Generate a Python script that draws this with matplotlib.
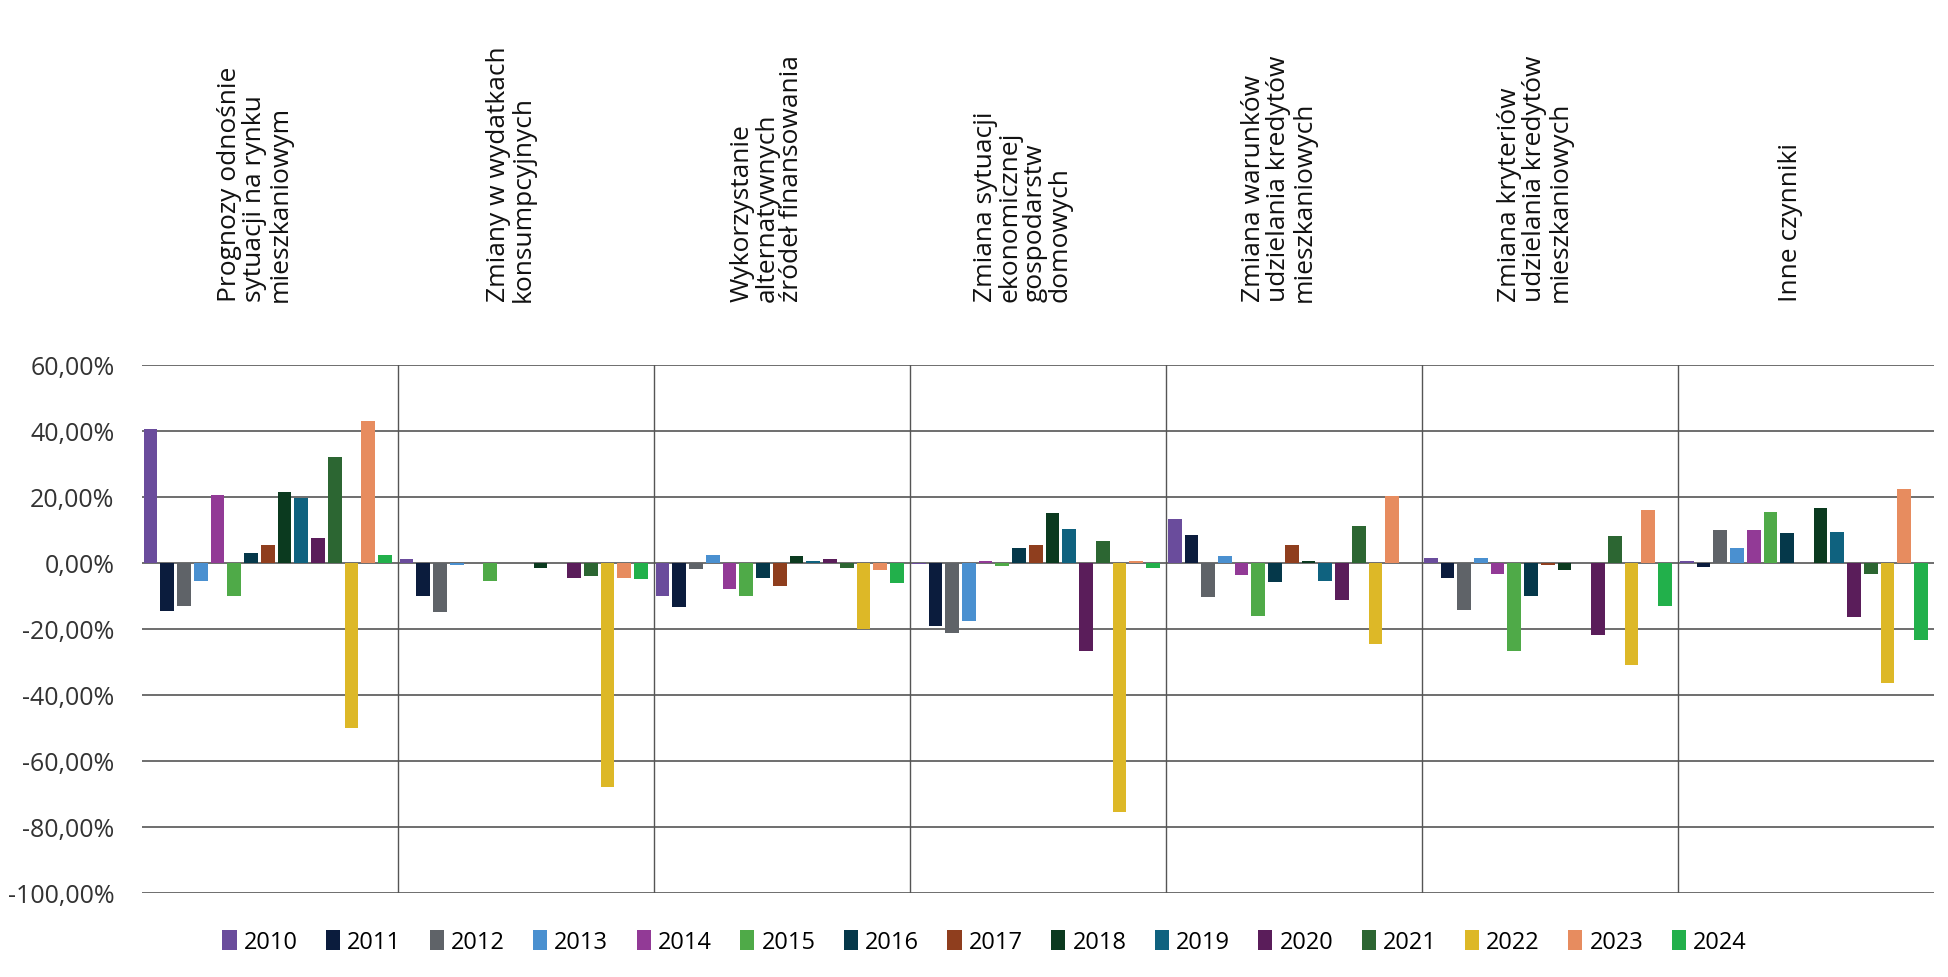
import numpy as np
import matplotlib
matplotlib.use("Agg")
from matplotlib import pyplot as plt
from matplotlib.ticker import FuncFormatter

# kategorie
kategorie = [
    "Prognozy odnośnie\nsytuacji na rynku\nmieszkaniowym",
    "Zmiany w wydatkach\nkonsumpcyjnych",
    "Wykorzystanie\nalternatywnych\nźródeł finansowania",
    "Zmiana sytuacji\nekonomicznej\ngospodarstw\ndomowych",
    "Zmiana warunków\nudzielania kredytów\nmieszkaniowych",
    "Zmiana kryteriów\nudzielania kredytów\nmieszkaniowych",
    "Inne czynniki",
]
lata = [str(r) for r in range(2010, 2025)]

# wartosci w % (wiersz = rok, kolumna = kategoria)
r2010 = [40.5, 1.2, -10.0, -0.5, 13.3, 1.6, 0.7]
r2011 = [-14.5, -10.0, -13.5, -19.0, 8.5, -4.7, -1.4]
r2012 = [-13.0, -15.0, -2.0, -21.3, -10.5, -14.3, 10.0]
r2013 = [-5.5, -0.7, 2.5, -17.7, 2.2, 1.6, 4.6]
r2014 = [20.5, 0.0, -8.0, 0.4, -3.8, -3.5, 10.0]
r2015 = [-10.0, -5.5, -10.0, -1.0, -16.0, -26.7, 15.5]
r2016 = [3.0, 0.0, -4.5, 4.6, -5.8, -10.0, 9.1]
r2017 = [5.5, 0.0, -7.0, 5.3, 5.5, -0.8, 0.0]
r2018 = [21.5, -1.5, 2.0, 15.2, 0.4, -2.2, 16.7]
r2019 = [19.5, 0.0, 0.4, 10.3, -5.6, 0.0, 9.4]
r2020 = [7.5, -4.5, 1.3, -26.7, -11.3, -21.8, -16.4]
r2021 = [32.0, -4.0, -1.7, 6.5, 11.2, 8.0, -3.5]
r2022 = [-50.0, -68.0, -20.0, -75.5, -24.5, -31.0, -36.3]
r2023 = [43.0, -4.5, -2.3, 0.6, 20.2, 16.0, 22.3]
r2024 = [2.5, -5.0, -6.0, -1.6, 0.0, -13.0, -23.3]
wartosci = [r2010, r2011, r2012, r2013, r2014, r2015, r2016, r2017,
            r2018, r2019, r2020, r2021, r2022, r2023, r2024]

kolory = ["#6A4C9C", "#0B1C3D", "#5F6368", "#4A90D0", "#923A96", "#4FAA48",
          "#05384A", "#8F3E1E", "#0B3A1F", "#0F627F", "#5A1D5A", "#2C6632",
          "#DDB827", "#E78C5F", "#22B04B"]

plt.rcParams["font.family"] = ["Open Sans", "DejaVu Sans"]

fig = plt.figure(figsize=(19.48, 9.78), dpi=100)
ax = fig.add_axes([0.073, 0.086, 0.92, 0.54])

n = len(lata)
szer = 1.0 / (n + 0.3)
x = np.arange(len(kategorie))
for i, (rok, w) in enumerate(zip(lata, wartosci)):
    ax.bar(x - 0.5 + szer * (i + 0.5), w, width=szer * 0.82,
           color=kolory[i], label=rok, zorder=3)

ax.set_xlim(-0.5, len(kategorie) - 0.5)
ax.set_ylim(-100, 60)
ax.set_yticks(np.arange(-100, 61, 20))
ax.yaxis.set_major_formatter(FuncFormatter(lambda v, p: f"{v:.2f}%".replace(".", ",")))
ax.tick_params(axis="y", labelsize=18, length=0, pad=20, colors="#333333")
ax.set_xticks([])
ax.grid(axis="y", color="#555555", linewidth=1.2, zorder=0)
for b in x[:-1] + 0.5:
    ax.axvline(b, color="#555555", linewidth=1, zorder=1)
for s in ax.spines.values():
    s.set_visible(False)

for xi, nazwa in zip(x, kategorie):
    ax.text(xi - 0.06, 1.12, nazwa, transform=ax.get_xaxis_transform(),
            rotation=90, ha="center", va="bottom", fontsize=19,
            multialignment="left", linespacing=1.0, color="#111111")

ax.legend(loc="upper center", bbox_to_anchor=(0.47, -0.03), ncol=n,
          frameon=False, fontsize=17, handlelength=0.6, handleheight=0.9,
          handletextpad=0.3, columnspacing=1.2)

fig.savefig("out.png", dpi=100)
